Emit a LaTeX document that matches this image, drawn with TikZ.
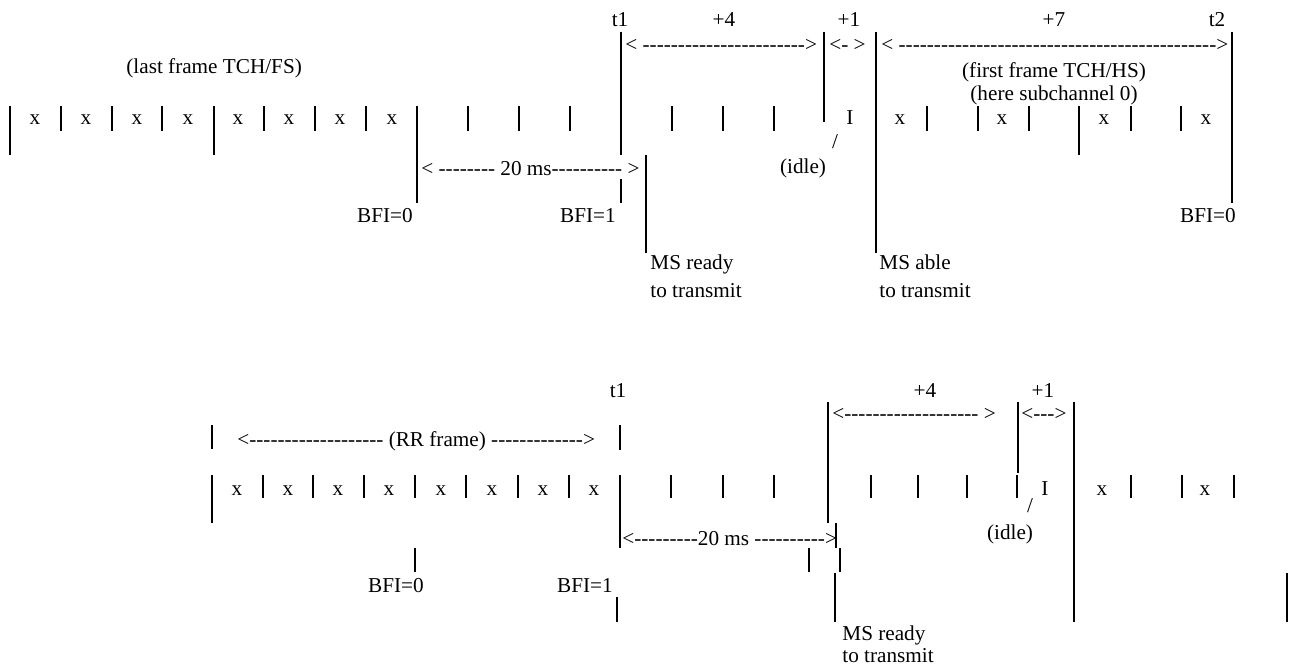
\documentclass[tikz,border=0pt]{standalone}
\usepackage{fontspec}
\setmainfont{Liberation Serif}[Ligatures=TeXOff]
\usetikzlibrary{positioning}
\newcommand\figfont{\fontsize{10.6pt}{13pt}\selectfont}
\tikzset{
  % A slot boundary or a time mark on the axis
  slotbar/.style={draw=black, line width=1pt},
  % Printed text, set on its baseline
  lbl/.style={font=\figfont, inner sep=0pt, anchor=base},
  lbll/.style={lbl, anchor=base west},
}

\begin{document}
\begin{tikzpicture}[x=0.5pt, y=-0.5pt]
  \useasboundingbox (0,0) rectangle (1289,668);

  % --- Upper sequence: TCH/FS -> TCH/HS ---------------------------------
  \node[lbll] (lastFrame) at (126,74) {(last frame TCH/FS)};

  \foreach \x in {61,112,162,264,315,366,468,519,570,672,723,774,927,978,1029,1131,1181}
    \draw[slotbar] (\x,106) -- (\x,131);
  \foreach \x in {10,214,1079}
    \draw[slotbar] (\x,106) -- (\x,155);
  \draw[slotbar] (417,106) -- (417,203);
  \draw[slotbar] (621,32) -- (621,155);
  \draw[slotbar] (621,179) -- (621,203);
  \draw[slotbar] (824,32) -- (824,122);
  \draw[slotbar] (646,155) -- (646,253);
  \draw[slotbar] (876,32) -- (876,253);
  \draw[slotbar] (1232,32) -- (1232,203);

  \foreach \x [count=\i] in {35,86,137,188,238,289,340,392,900,1002,1104,1206}
    \node[lbl] (up\i) at (\x,125) {x};
  \node[lbl] (idleUp) at (850,125) {I};
  \node[lbl] (slashUp) at (835,149) {/};
  \node[lbl] (idleTxtUp) at (803,174) {(idle)};

  \node[lbl] (tOne)   at (620,27)  {t1};
  \node[lbl] (pFour)  at (724,27)  {+4};
  \node[lbl] (pOne)   at (849,27)  {+1};
  \node[lbl] (pSeven) at (1054,27) {+7};
  \node[lbl] (tTwo)   at (1217,27) {t2};

  \node[lbll] (spanFour)  at (625,52) {< ----------------------->};
  \node[lbll] (spanOne)   at (829,52) {<- >};
  \node[lbll] (spanSeven) at (881,52) {< --------------------------------------------->};
  \node[lbll] (spanTwenty) at (421,176) {< -------- 20 ms---------- >};

  \node[lbl] (firstFrame) at (1054,78)  {(first frame TCH/HS)};
  \node[lbl] (subChan)    at (1054,101) {(here subchannel 0)};

  \node[lbl] (bfiA) at (385,223)  {BFI=0};
  \node[lbl] (bfiB) at (588,223)  {BFI=1};
  \node[lbl] (bfiC) at (1208,223) {BFI=0};

  \node[lbll] (readyUp)  at (650,270) {MS ready};
  \node[lbll] (readyUp2) at (650,297) {to transmit};
  \node[lbll] (ableUp)   at (879,270) {MS able};
  \node[lbll] (ableUp2)  at (879,297) {to transmit};

  % --- Lower sequence: RR frame ------------------------------------------
  \draw[slotbar] (212,425) -- (212,449);
  \draw[slotbar] (620,425) -- (620,450);
  \node[lbll] (rrFrame) at (237,446) {<------------------- (RR frame) ------------->};

  \foreach \x in {263,313,364,415,466,518,569,671,723,774,871,918,967,1017,1131,1182,1234}
    \draw[slotbar] (\x,475) -- (\x,498);
  \draw[slotbar] (212,475) -- (212,523);
  \draw[slotbar] (620,475) -- (620,548);
  \draw[slotbar] (415,548) -- (415,572);
  \draw[slotbar] (617,597) -- (617,622);
  \draw[slotbar] (828,402) -- (828,523);
  \draw[slotbar] (836,523) -- (836,548);
  \draw[slotbar] (809,548) -- (809,572);
  \draw[slotbar] (840,548) -- (840,572);
  \draw[slotbar] (835,573) -- (835,622);
  \draw[slotbar] (1018,402) -- (1018,473);
  \draw[slotbar] (1074,402) -- (1074,622);
  \draw[slotbar] (1287,573) -- (1287,622);

  \foreach \x [count=\i] in {237,288,338,389,441,492,543,594,1102,1205}
    \node[lbl] (low\i) at (\x,495) {x};
  \node[lbl] (idleLow) at (1045,495) {I};
  \node[lbl] (slashLow) at (1030,512) {/};
  \node[lbl] (idleTxtLow) at (1010,539) {(idle)};

  \node[lbl] (tOneLow)  at (618,397)  {t1};
  \node[lbl] (pFourLow) at (925,397)  {+4};
  \node[lbl] (pOneLow)  at (1043,397) {+1};

  \node[lbll] (spanFourLow)   at (832,420)  {<------------------- >};
  \node[lbll] (spanOneLow)    at (1021,420) {<--->};
  \node[lbll] (spanTwentyLow) at (622,545)  {<---------20 ms ---------->};

  \node[lbl] (bfiLowA) at (396,592) {BFI=0};
  \node[lbl] (bfiLowB) at (585,592) {BFI=1};

  \node[lbll] (readyLow)  at (842,640) {MS ready};
  \node[lbll] (readyLow2) at (842,662) {to transmit};
\end{tikzpicture}
\end{document}
